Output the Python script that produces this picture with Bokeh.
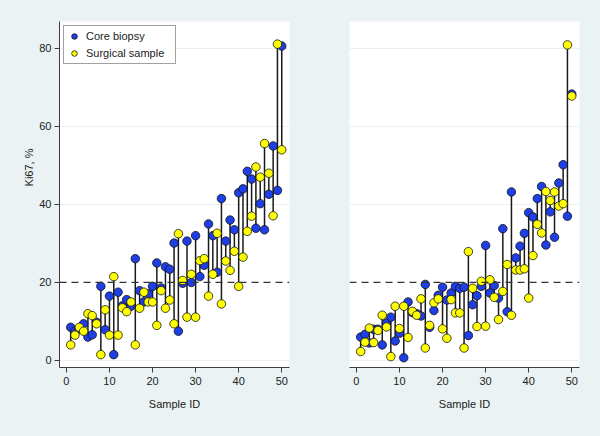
from bokeh.plotting import figure
from bokeh.models import Range1d, Span, Legend, LegendItem, FixedTicker, Title, ColumnDataSource
from bokeh.layouts import row
from bokeh.embed import file_html
from bokeh.resources import INLINE

# ---------------- data ----------------
sample_id = list(range(1, 51))

core_left = [8.5, 7.5, 8.0, 9.4, 6.0, 6.6, 9.8, 19.0, 7.9, 16.5,
             1.5, 17.5, 14.0, 15.6, 13.9, 26.1, 17.9, 15.0, 17.1, 19.0,
             25.0, 18.6, 24.0, 23.4, 30.1, 7.5, 19.8, 30.6, 20.0, 32.0,
             21.5, 24.4, 35.0, 32.0, 22.6, 41.5, 30.6, 36.0, 33.5, 43.0,
             44.0, 48.5, 46.5, 33.9, 40.2, 33.5, 42.6, 55.0, 43.6, 80.6]
surgical_left = [4.0, 6.5, 8.5, 7.5, 12.0, 11.5, 9.4, 1.5, 13.0, 6.5,
                 21.5, 6.5, 13.5, 12.5, 15.0, 4.0, 13.4, 17.5, 15.0, 15.0,
                 9.0, 17.9, 13.4, 15.5, 9.4, 32.5, 20.5, 11.1, 22.1, 11.1,
                 25.6, 26.1, 16.5, 22.1, 32.6, 14.5, 25.5, 23.1, 28.0, 19.0,
                 26.5, 33.1, 37.0, 49.6, 47.0, 55.6, 48.0, 37.1, 81.1, 54.0]

core_right = [6.0, 6.7, 4.5, 8.0, 8.0, 4.0, 9.6, 11.1, 5.0, 7.0,
              0.7, 15.0, 12.3, 12.0, 11.4, 19.5, 8.5, 12.8, 16.7, 18.8,
              15.5, 17.3, 19.0, 18.5, 18.8, 6.4, 14.3, 16.6, 19.0, 29.5,
              17.3, 19.2, 16.0, 33.8, 12.5, 43.2, 26.3, 29.3, 32.6, 37.9,
              36.8, 41.5, 44.6, 29.6, 38.1, 31.6, 45.5, 50.2, 37.0, 68.3]
surgical_right = [2.3, 4.7, 8.3, 4.6, 7.7, 11.6, 8.6, 1.0, 13.9, 8.2,
                  13.9, 5.9, 12.6, 11.6, 15.8, 3.2, 9.0, 14.8, 15.8, 8.1,
                  5.7, 15.6, 12.2, 12.2, 3.2, 27.9, 18.5, 8.7, 20.3, 8.8,
                  20.7, 16.2, 10.5, 17.7, 24.6, 11.6, 23.2, 23.2, 23.5, 16.0,
                  26.9, 34.9, 32.7, 43.3, 41.0, 43.2, 39.6, 40.2, 80.9, 67.8]

y_ticks = [0, 20, 40, 60, 80]
x_ticks = [0, 10, 20, 30, 40, 50]
grid_ticks = [0, 40, 60, 80]
threshold = 20
series_names = ["Core biopsy", "Surgical sample"]
x_title = "Sample ID"
y_title = "Ki67, %"

# ---------------- style ----------------
BG = "#EAF2F3"
BLUE = "#1E3FE6"
YELLOW = "#FFFF00"
FONT = "Liberation Sans"
TXT = "#222222"
AXIS = "#3c3c3c"


def make_panel(core, surg, left_axis, legend, width, border_left, border_right):
    p = figure(width=width, height=436,
               x_range=Range1d(-1.6, 51.8), y_range=Range1d(-1.8, 86.9),
               output_backend="svg", toolbar_location=None,
               y_axis_location="left" if left_axis else None,
               min_border_left=border_left, min_border_right=border_right,
               min_border_top=21, min_border_bottom=69)
    p.background_fill_color = "white"
    p.border_fill_color = None
    p.outline_line_color = None

    # axes
    p.xaxis.ticker = FixedTicker(ticks=x_ticks)
    p.xaxis.axis_label = x_title
    for ax in p.axis:
        ax.axis_line_color = AXIS
        ax.axis_line_width = 1
        ax.major_tick_line_color = AXIS
        ax.major_tick_out = 5
        ax.major_tick_in = 0
        ax.minor_tick_line_color = None
        ax.major_label_text_font = FONT
        ax.major_label_text_font_size = "11px"
        ax.major_label_text_color = TXT
        ax.axis_label_text_font = FONT
        ax.axis_label_text_font_size = "11px"
        ax.axis_label_text_font_style = "normal"
        ax.axis_label_text_color = TXT
    p.xaxis.major_label_standoff = 4
    p.xaxis.axis_label_standoff = 10
    if left_axis:
        p.yaxis.ticker = FixedTicker(ticks=y_ticks)
        p.yaxis.major_label_standoff = 3
        p.yaxis.major_label_orientation = "horizontal"
        p.add_layout(Title(text=y_title, align="right", offset=127, standoff=4,
                           text_font=FONT, text_font_size="11px",
                           text_font_style="normal", text_color=TXT), "left")

    # grid
    p.xgrid.grid_line_color = None
    p.ygrid.ticker = FixedTicker(ticks=grid_ticks)
    p.ygrid.grid_line_color = "#E9F0F2"
    p.ygrid.grid_line_width = 1

    # threshold
    p.add_layout(Span(location=threshold, dimension="width", line_color="#333333",
                      line_width=1.3, line_dash="7 5"))

    src = ColumnDataSource(dict(x=sample_id, core=core, surg=surg))
    p.segment(x0="x", y0="core", x1="x", y1="surg", source=src,
              line_color="#1a1a1a", line_width=1.5)
    r_core = p.scatter("x", "core", source=src, marker="circle", size=8.5,
                       fill_color=BLUE, line_color="#111111", line_width=0.8)
    r_surg = p.scatter("x", "surg", source=src, marker="circle", size=8.5,
                       fill_color=YELLOW, line_color="#111111", line_width=0.8)

    if legend:
        lg = Legend(items=[LegendItem(label=series_names[0], renderers=[r_core]),
                           LegendItem(label=series_names[1], renderers=[r_surg])],
                    location="top_left", margin=4, padding=3, spacing=3,
                    glyph_width=14, glyph_height=14, label_height=14,
                    label_width=86, label_standoff=5, label_text_font=FONT,
                    label_text_font_size="11px", label_text_color=TXT,
                    border_line_color="#444444", border_line_width=1,
                    background_fill_color="white", background_fill_alpha=1)
        p.add_layout(lg)
    return p


left = make_panel(core_left, surgical_left, True, True, 319, 59, 30)
right = make_panel(core_right, surgical_right, False, False, 281, 30, 21)

layout = row(left, right, spacing=0)
html = file_html(layout, INLINE, title="Ki67")
html = html.replace("</head>",
                    "<style>html, body { background-color: %s; }</style></head>" % BG, 1)
open("out.html", "w").write(html)
